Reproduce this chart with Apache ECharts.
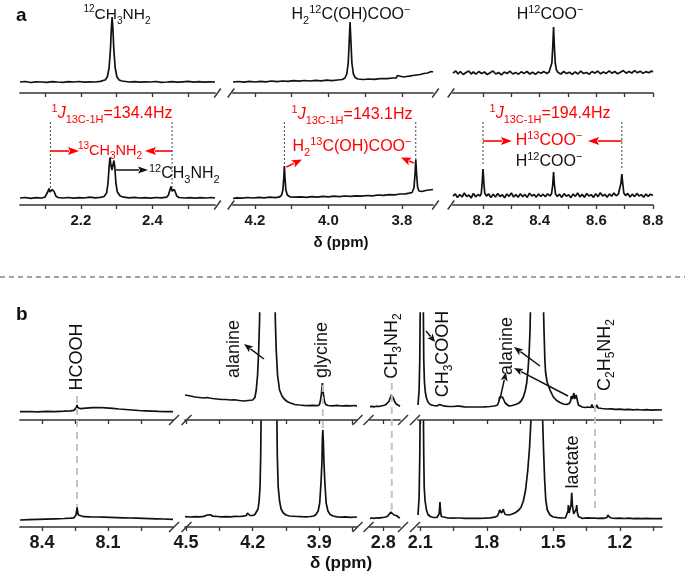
<!DOCTYPE html>
<html><head><meta charset="utf-8">
<script src="https://cdn.jsdelivr.net/npm/echarts@6/dist/echarts.min.js"></script>
<style>html,body{margin:0;padding:0;background:#fff}#c{width:685px;height:575px}</style>
</head><body><div id="c"></div>
<script>
// ---------- tick values / labels (ppm) ----------
const tickA1 = [2.1,2.2,2.3,2.4,2.5],            labA1 = [2.2,2.4];
const tickA2 = [4.2,4.1,4.0,3.9,3.8],            labA2 = [4.2,4.0,3.8];
const tickA3 = [8.2,8.3,8.4,8.5,8.6,8.7,8.8],    labA3 = [8.2,8.4,8.6,8.8];
const tickB1 = [8.4,8.25,8.1,7.95],              labB1 = [8.4,8.1];
const tickB2 = [4.5,4.35,4.2,4.05,3.9,3.75],     labB2 = [4.5,4.2,3.9];
const tickB3 = [2.8],                            labB3 = [2.8];
const tickB4 = [2.1,1.95,1.8,1.65,1.5,1.35,1.2,1.05], labB4 = [2.1,1.8,1.5,1.2];

// ---------- spectra: [ppm, intensity] ----------
const a1Top = [[2.03,11],[2.045,11.5],[2.06,10.5],[2.075,11.2],[2.09,11],[2.105,10.6],[2.12,11.4],[2.135,11],[2.15,10.7],[2.165,11.3],[2.18,11],[2.195,11.5],[2.21,10.8],[2.225,11.2],[2.24,11],[2.255,11.6],[2.262,12.5],[2.268,13],[2.274,16],[2.279,25],[2.283,45],[2.285,62],[2.2875,76],[2.29,62],[2.292,45],[2.296,25],[2.301,16],[2.307,13],[2.315,12],[2.325,11.5],[2.335,11],[2.35,11.4],[2.365,10.8],[2.38,11.2],[2.395,11],[2.41,11.5],[2.425,10.7],[2.44,11],[2.455,11.4],[2.47,10.8],[2.485,11.2],[2.5,11.6],[2.515,10.9],[2.53,11.3],[2.545,10.8],[2.56,11.2],[2.575,11]];
const a1Bot = [[2.03,7],[2.045,7.5],[2.06,6.6],[2.075,7.3],[2.09,7],[2.1,7.8],[2.104,9.5],[2.108,13.5],[2.111,16.5],[2.114,13],[2.117,12.5],[2.12,15.5],[2.123,17.5],[2.126,13],[2.13,9],[2.136,7.5],[2.15,7],[2.165,7.5],[2.18,6.8],[2.195,7.4],[2.21,7],[2.225,7.8],[2.24,7.2],[2.255,7.6],[2.265,8.5],[2.272,12],[2.276,22],[2.279,38],[2.2815,47.5],[2.284,40],[2.287,35],[2.2895,37],[2.2925,44.5],[2.295,38],[2.298,22],[2.302,13],[2.31,9],[2.32,7.8],[2.335,7.2],[2.35,7.6],[2.365,7],[2.38,7.4],[2.395,6.9],[2.41,7.5],[2.425,7.1],[2.44,7.8],[2.445,10],[2.449,15],[2.452,18.5],[2.455,14],[2.458,13],[2.461,15.5],[2.464,13],[2.468,9],[2.474,7.5],[2.49,7],[2.505,7.4],[2.52,6.8],[2.535,7.3],[2.55,7],[2.565,7.5],[2.575,7]];
const a2Top = [[4.26,11],[4.245,11.5],[4.23,10.8],[4.215,11.6],[4.2,11],[4.185,11.7],[4.17,11.2],[4.155,12],[4.14,11.4],[4.125,12],[4.11,11.6],[4.095,12.3],[4.08,11.8],[4.065,12.5],[4.05,12],[4.035,12.6],[4.02,12.2],[4.005,12.8],[3.99,12.4],[3.975,13],[3.962,13.5],[3.955,15],[3.95,19],[3.946,30],[3.9435,50],[3.941,71],[3.9385,50],[3.936,30],[3.932,19],[3.927,15.5],[3.92,14],[3.905,13.5],[3.89,14],[3.875,13.6],[3.865,14.2],[3.86,16],[3.855,14.5],[3.84,14.4],[3.825,15],[3.815,15.2],[3.812,17.5],[3.808,15.5],[3.795,16],[3.787,16.5],[3.784,18.5],[3.78,16.8],[3.77,17.5],[3.76,18],[3.75,18.5],[3.74,19.5],[3.73,20],[3.72,21.5],[3.715,21]];
const a2Bot = [[4.26,6.5],[4.25,7.2],[4.235,6.8],[4.22,7.5],[4.205,7],[4.19,7.6],[4.175,7.1],[4.16,7.8],[4.145,7.3],[4.135,7.8],[4.128,9.5],[4.124,15],[4.1215,28],[4.12,39],[4.1185,28],[4.116,15],[4.112,10],[4.105,8.2],[4.09,7.8],[4.075,8.2],[4.06,7.6],[4.045,8.4],[4.03,7.9],[4.015,8.6],[4.0,8.2],[3.985,8.8],[3.97,8.4],[3.955,9],[3.94,8.6],[3.925,9.2],[3.91,8.8],[3.895,9.5],[3.88,9.2],[3.865,10],[3.85,9.6],[3.835,10.4],[3.82,10.2],[3.805,11],[3.79,11.2],[3.78,11.8],[3.772,12.5],[3.767,17],[3.764,30],[3.762,45.5],[3.7595,30],[3.757,18],[3.753,14],[3.745,13.5],[3.735,14.5],[3.725,15],[3.715,15.5]];
const a3Top = [[8.094,20],[8.104,22],[8.112,19],[8.12,21.5],[8.13,18.5],[8.14,20.5],[8.15,22],[8.158,19],[8.166,21],[8.175,18.8],[8.185,21.5],[8.195,19.5],[8.205,21],[8.215,18.5],[8.225,20.2],[8.235,22],[8.245,19],[8.255,20.5],[8.265,18.2],[8.275,21],[8.285,19.5],[8.295,21.8],[8.305,19],[8.315,20.6],[8.325,18.8],[8.335,21.2],[8.345,19.6],[8.355,21.5],[8.365,19],[8.375,20.8],[8.385,18.6],[8.395,21],[8.405,19.8],[8.415,21.4],[8.425,19.5],[8.433,21],[8.439,23],[8.443,30],[8.4465,48],[8.449,66],[8.4515,48],[8.455,30],[8.459,23],[8.465,20.5],[8.475,19],[8.485,21.5],[8.495,19.4],[8.505,20.8],[8.515,18.6],[8.525,21.2],[8.535,19],[8.545,21.8],[8.555,19.5],[8.565,20.5],[8.575,18.8],[8.585,21.5],[8.595,19.8],[8.605,22],[8.615,19.2],[8.625,21],[8.635,19.5],[8.645,22.2],[8.655,19.8],[8.665,21.5],[8.675,19.2],[8.685,20.8],[8.695,22.5],[8.705,19.8],[8.715,21.5],[8.725,20],[8.735,22.4],[8.745,20.2],[8.755,21.8],[8.765,19.6],[8.775,21.4],[8.785,20.2],[8.795,22],[8.8,21]];
const a3Bot = [[8.094,9],[8.102,11],[8.11,7.5],[8.118,10.5],[8.126,8],[8.134,12],[8.142,8.5],[8.15,10],[8.158,7],[8.166,11.5],[8.174,8.2],[8.182,10.5],[8.19,9],[8.194,12],[8.197,22],[8.2,36],[8.203,22],[8.206,12],[8.212,9],[8.22,11],[8.228,7.5],[8.236,10.8],[8.244,8],[8.252,11.5],[8.26,8.5],[8.268,10.2],[8.276,7.2],[8.284,11],[8.292,8.6],[8.3,12],[8.308,8],[8.316,10.4],[8.324,7.8],[8.332,11.2],[8.34,8.4],[8.348,10.6],[8.356,7.6],[8.364,11.8],[8.372,9],[8.38,10.5],[8.388,7.9],[8.396,11],[8.404,8.5],[8.412,10.8],[8.42,8.2],[8.428,11.2],[8.436,9],[8.442,11.5],[8.446,20],[8.449,33],[8.452,20],[8.456,11],[8.462,8.5],[8.47,10.8],[8.478,7.6],[8.486,11.4],[8.494,8.8],[8.502,10.2],[8.51,7.4],[8.518,11],[8.526,8.6],[8.534,12],[8.542,8.2],[8.55,10.6],[8.558,7.8],[8.566,11.5],[8.574,9],[8.582,10.4],[8.59,7.6],[8.598,11.2],[8.606,8.4],[8.614,12.2],[8.622,9],[8.63,10.6],[8.638,7.8],[8.646,11],[8.654,8.8],[8.662,12],[8.67,9.2],[8.678,11],[8.684,12.5],[8.687,22],[8.69,31],[8.693,22],[8.697,12],[8.703,9.5],[8.711,11.5],[8.719,8],[8.727,10.8],[8.735,8.4],[8.743,11.6],[8.751,9],[8.759,10.4],[8.767,7.8],[8.775,11],[8.783,8.6],[8.791,10.8],[8.8,9.5]];
const b1Top = [[8.5,8.3],[8.46,8.5],[8.42,8.2],[8.38,8.6],[8.34,8.4],[8.3,8.8],[8.27,9.2],[8.255,9.6],[8.248,10.5],[8.244,12.5],[8.241,15],[8.238,12.5],[8.234,11],[8.225,11.3],[8.2,11.8],[8.17,12.3],[8.14,12.5],[8.11,12.2],[8.08,11.6],[8.05,11],[8.02,10.5],[7.99,10],[7.96,9.5],[7.93,9.2],[7.9,8.9],[7.87,8.6],[7.84,8.4],[7.805,8.3]];
const b1Bot = [[8.5,7],[8.46,7.3],[8.42,7.6],[8.38,7.9],[8.34,8.2],[8.3,8.5],[8.27,8.8],[8.255,9.2],[8.25,10],[8.246,12],[8.243,15.5],[8.2405,19.7],[8.238,15],[8.235,12],[8.23,10.8],[8.21,10.3],[8.18,10.1],[8.15,10],[8.12,9.8],[8.09,9.6],[8.06,9.4],[8.03,9.2],[8.0,9],[7.97,8.8],[7.94,8.6],[7.91,8.4],[7.88,8.2],[7.85,8],[7.805,7.7]];
const b2Top = [[4.505,25],[4.48,24],[4.46,23],[4.44,22.5],[4.42,22],[4.405,22.5],[4.4,24],[4.395,22],[4.38,21.5],[4.36,21],[4.34,20.5],[4.32,20.5],[4.3,20],[4.285,20.2],[4.28,22],[4.275,20],[4.26,19.5],[4.24,19],[4.22,19.5],[4.2,20],[4.19,22.5],[4.184,30],[4.178,45],[4.173,70],[4.169,100],[4.167,130],[4.1,130],[4.098,100],[4.094,70],[4.088,45],[4.079,30],[4.068,24],[4.058,21],[4.045,18.5],[4.03,17],[4.01,15.5],[3.99,15],[3.97,14.6],[3.95,14.4],[3.93,14.6],[3.91,14.3],[3.9,15],[3.895,19],[3.89,27],[3.886,37],[3.882,27],[3.877,19],[3.871,15.5],[3.86,14.5],[3.84,14.2],[3.82,14.6],[3.8,14],[3.78,14.4],[3.76,14.1],[3.745,14.5],[3.73,14.2]];
const b2Bot = [[4.505,10.3],[4.48,10],[4.46,10.4],[4.44,10.2],[4.42,10.6],[4.405,12],[4.4,11],[4.39,12.2],[4.38,10.8],[4.36,10.5],[4.34,10.2],[4.32,10.4],[4.3,10.2],[4.28,10.6],[4.26,10.5],[4.24,10.8],[4.228,11.5],[4.224,14],[4.221,16],[4.218,13],[4.212,11.5],[4.2,11.5],[4.19,12.5],[4.182,14],[4.176,18],[4.171,26],[4.167,40],[4.164,70],[4.162,110],[4.161,130],[4.092,130],[4.091,110],[4.089,70],[4.085,40],[4.079,26],[4.072,18],[4.062,14],[4.05,12],[4.035,11],[4.0,10.5],[3.98,10.3],[3.96,10.2],[3.94,10.5],[3.925,11],[3.915,12.5],[3.905,16],[3.898,24],[3.892,45],[3.888,65],[3.886,88],[3.884,97],[3.882,88],[3.879,65],[3.875,45],[3.869,24],[3.861,16],[3.851,12.5],[3.838,11],[3.82,10.2],[3.8,9.8],[3.78,10.2],[3.76,9.7],[3.73,10]];
const b3Top = [[2.86,13.3],[2.85,13.6],[2.84,13.2],[2.83,13.8],[2.82,13.5],[2.81,14],[2.8,14.5],[2.79,15.2],[2.782,16.5],[2.775,18.5],[2.769,22],[2.765,25],[2.762,26.7],[2.759,25],[2.755,22],[2.749,18.5],[2.742,16],[2.735,14.5],[2.725,13.8]];
const b3Bot = [[2.86,8.7],[2.85,9],[2.84,8.6],[2.83,9.2],[2.82,8.8],[2.81,9.3],[2.8,9.5],[2.79,10],[2.78,11],[2.772,12.5],[2.766,15],[2.762,17],[2.758,15],[2.752,12],[2.745,10.8],[2.742,11.5],[2.738,10.5],[2.73,9.5],[2.725,9]];
const b4Top = [[2.11,15],[2.105,30],[2.102,60],[2.1,110],[2.099,150],[2.087,150],[2.086,110],[2.084,60],[2.081,38],[2.077,28],[2.072,22],[2.065,18],[2.055,15.5],[2.04,14.5],[2.025,14],[2.016,14.5],[2.013,15.5],[2.011,16.5],[2.009,15.5],[2.005,14.3],[1.99,13.8],[1.97,13.5],[1.95,13.5],[1.935,13.8],[1.929,15],[1.925,13.8],[1.9,13.2],[1.87,13],[1.84,13],[1.81,13.2],[1.785,13.5],[1.765,14],[1.752,15],[1.746,18],[1.742,23],[1.7395,25],[1.737,22],[1.733,21],[1.729,23],[1.7255,24.5],[1.722,21],[1.717,17],[1.71,15],[1.7,14],[1.685,14.5],[1.67,15.5],[1.655,17],[1.645,19],[1.635,23],[1.627,29],[1.62,37],[1.614,50],[1.609,67],[1.605,90],[1.602,120],[1.6,150],[1.547,150],[1.545,120],[1.542,90],[1.538,60],[1.535,48],[1.528,38],[1.515,30],[1.5,23],[1.485,19.5],[1.47,17.5],[1.455,16],[1.44,15.5],[1.428,16.5],[1.422,19],[1.419,24],[1.417,26],[1.414,21],[1.41,22],[1.407,27],[1.404,21],[1.4,20],[1.397,25],[1.395,26],[1.392,20],[1.387,15],[1.38,13.5],[1.37,13],[1.355,12.5],[1.345,13],[1.343,15],[1.34,12.8],[1.33,12.5],[1.326,15.5],[1.323,12.8],[1.31,12.3],[1.305,15],[1.302,14.5],[1.298,12],[1.28,11.5],[1.26,11],[1.24,11.2],[1.22,10.6],[1.2,10.8],[1.18,10.4],[1.16,10.7],[1.14,10.2],[1.12,10.5],[1.1,10],[1.08,10.3],[1.06,9.8],[1.04,10.2],[1.01,10]];
const b4Bot = [[2.11,12],[2.105,30],[2.102,70],[2.1,120],[2.099,150],[2.087,150],[2.086,120],[2.084,70],[2.082,40],[2.078,26],[2.072,17],[2.065,12.5],[2.055,10.5],[2.04,9.5],[2.025,9.5],[2.018,10.5],[2.015,13],[2.013,18],[2.011,25],[2.009,18],[2.007,13],[2.004,10.5],[1.995,9.5],[1.975,9],[1.95,8.8],[1.935,9],[1.931,10.5],[1.929,11],[1.926,10],[1.92,9],[1.9,8.7],[1.87,8.6],[1.84,8.7],[1.81,8.8],[1.785,9.2],[1.765,9.8],[1.752,11],[1.746,14],[1.742,17],[1.7395,17.7],[1.737,15],[1.733,14],[1.729,16],[1.7255,17.7],[1.722,15],[1.717,12.5],[1.71,12],[1.7,12],[1.685,13],[1.67,14.5],[1.655,17],[1.645,20],[1.635,26],[1.625,37],[1.615,57],[1.607,80],[1.601,106],[1.599,140],[1.55,140],[1.548,106],[1.544,77],[1.539,47],[1.534,27],[1.527,17],[1.515,12],[1.5,10],[1.48,9.3],[1.46,9],[1.445,9.2],[1.437,10.5],[1.434,16],[1.432,22],[1.429,14],[1.423,13],[1.42,22],[1.417,34.3],[1.414,22],[1.408,13],[1.4,14],[1.397,18],[1.3945,22],[1.392,15],[1.387,10.5],[1.38,9],[1.37,8.7],[1.36,8.8],[1.345,9.2],[1.342,10.5],[1.339,9],[1.33,8.8],[1.325,10],[1.322,10.8],[1.319,9],[1.31,9],[1.3,8.7],[1.285,8.8],[1.27,8.7],[1.258,9.5],[1.254,12],[1.2515,13],[1.249,11],[1.245,9.5],[1.235,9],[1.22,8.6],[1.2,8.8],[1.18,8.5],[1.16,8.8],[1.14,8.4],[1.12,8.7],[1.1,8.3],[1.08,8.6],[1.06,8.3],[1.04,8.5],[1.01,8.4]];

// ---------- layout ----------
const FONT = '"Liberation Sans", Arial, Helvetica, sans-serif';
const AX = '#333', INK = '#111', RED = '#ff0000';
const L = [
  {l:20, r:215, t:8,   b:93,  min:2.03,  max:2.575, inv:false, ticks:tickA1, labs:null,  data:a1Top},
  {l:20, r:215, t:110, b:205, min:2.03,  max:2.575, inv:false, ticks:tickA1, labs:labA1, data:a1Bot, fs:15, m:8},
  {l:233,r:433, t:8,   b:93,  min:3.715, max:4.26,  inv:true,  ticks:tickA2, labs:null,  data:a2Top},
  {l:233,r:433, t:110, b:205, min:3.715, max:4.26,  inv:true,  ticks:tickA2, labs:labA2, data:a2Bot, fs:15, m:8},
  {l:453,r:653, t:8,   b:93,  min:8.094, max:8.8,   inv:false, ticks:tickA3, labs:null,  data:a3Top},
  {l:453,r:653, t:110, b:205, min:8.094, max:8.8,   inv:false, ticks:tickA3, labs:labA3, data:a3Bot, fs:15, m:8},
  {l:20, r:173, t:313, b:420, min:7.805, max:8.5,   inv:true,  ticks:tickB1, labs:null,  data:b1Top},
  {l:20, r:173, t:421, b:527, min:7.805, max:8.5,   inv:true,  ticks:tickB1, labs:labB1, data:b1Bot, fs:18, m:7},
  {l:185,r:357, t:313, b:420, min:3.73,  max:4.505, inv:true,  ticks:tickB2, labs:null,  data:b2Top},
  {l:185,r:357, t:421, b:527, min:3.73,  max:4.505, inv:true,  ticks:tickB2, labs:labB2, data:b2Bot, fs:18, m:7},
  {l:370,r:400, t:313, b:420, min:2.725, max:2.86,  inv:true,  ticks:tickB3, labs:null,  data:b3Top},
  {l:370,r:400, t:421, b:527, min:2.725, max:2.86,  inv:true,  ticks:tickB3, labs:labB3, data:b3Bot, fs:18, m:7},
  {l:418,r:662, t:313, b:420, min:1.01,  max:2.11,  inv:true,  ticks:tickB4, labs:null,  data:b4Top},
  {l:418,r:662, t:421, b:527, min:1.01,  max:2.11,  inv:true,  ticks:tickB4, labs:labB4, data:b4Bot, fs:18, m:7}
];

const chart = echarts.init(document.getElementById('c'), null, {renderer:'canvas'});
chart.setOption({
  backgroundColor:'#fff',
  animation:false,
  grid: L.map(g => ({left:g.l, top:g.t, width:g.r-g.l, height:g.b-g.t})),
  xAxis: L.map((g,i) => ({
    gridIndex:i, type:'value', min:g.min, max:g.max, inverse:g.inv,
    axisLine:{show:true, onZero:false, lineStyle:{color:AX, width:1.7}},
    axisTick:{show:true, inside:false, length:4, customValues:g.ticks, lineStyle:{color:AX, width:1.3}},
    axisLabel: g.labs ? {show:true, customValues:g.labs, margin:g.m, fontSize:g.fs, fontWeight:'bold',
      fontFamily:FONT, color:'#1a1a1a', formatter:v => v.toFixed(1)} : {show:false},
    splitLine:{show:false}
  })),
  yAxis: L.map((g,i) => ({gridIndex:i, type:'value', min:0, max:g.b-g.t, show:false})),
  series: L.map((g,i) => ({
    type:'line', xAxisIndex:i, yAxisIndex:i, data:g.data, showSymbol:false, symbol:'none',
    lineStyle:{color:INK, width:1.7}, clip:true, silent:true, animation:false
  }))
});

// ---------- annotations ----------
const X = (gi, ppm) => chart.convertToPixel({gridIndex:gi}, [ppm, 0])[0];

function rich(size, color){
  const s = Math.round(size*0.66);
  return {
    n:{fontSize:size, fontFamily:FONT, fill:color, lineHeight:size+6},
    i:{fontSize:size, fontFamily:FONT, fill:color, fontStyle:'italic', lineHeight:size+6},
    sup:{fontSize:s, fontFamily:FONT, fill:color, lineHeight:s+1, verticalAlign:'top'},
    sub:{fontSize:s, fontFamily:FONT, fill:color, lineHeight:s+1, verticalAlign:'bottom'}
  };
}
function T(text, x, y, size, color, opt){
  opt = opt || {};
  return {type:'text', x:x, y:y, rotation:opt.rot||0, z:100, silent:true,
    style:{text:text, rich:rich(size,color), fill:color, fontSize:size, fontFamily:FONT,
      align:opt.align||'center', verticalAlign:'middle'}};
}
function B(text, x, y, size, align){
  return {type:'text', x:x, y:y, z:100, silent:true,
    style:{text:text, fill:'#111', fontSize:size, fontWeight:'bold', fontFamily:FONT,
      align:align||'center', verticalAlign:'middle'}};
}
function arrow(x1,y1,x2,y2,color,hl,hw,lw){
  const dx=x2-x1, dy=y2-y1, len=Math.hypot(dx,dy), ux=dx/len, uy=dy/len;
  const bx=x2-ux*hl, by=y2-uy*hl, px=-uy, py=ux;
  return [
    {type:'line', z:100, silent:true, shape:{x1:x1,y1:y1,x2:bx+ux*1,y2:by+uy*1}, style:{stroke:color, lineWidth:lw}},
    {type:'polygon', z:100, silent:true, shape:{points:[[x2,y2],[bx+px*hw,by+py*hw],[bx+ux*2,by+uy*2],[bx-px*hw,by-py*hw]]}, style:{fill:color}}
  ];
}
function vline(x,y1,y2,color,dash,lw){
  return {type:'line', z:90, silent:true, shape:{x1:x,y1:y1,x2:x,y2:y2},
    style:{stroke:color, lineWidth:lw, lineDash:dash}};
}
function slash(x,y,dx,dy){
  return {type:'line', z:95, silent:true, shape:{x1:x-dx,y1:y+dy,x2:x+dx,y2:y-dy},
    style:{stroke:AX, lineWidth:1.4}};
}

const g = [];
// panel labels
g.push(B('a', 16, 16, 19, 'left'));
g.push(B('b', 16, 315, 19, 'left'));
g.push(B('δ (ppm)', 341, 243, 15));
g.push(B('δ (ppm)', 341, 563, 17));
// separator
g.push({type:'line', silent:true, shape:{x1:0,y1:277,x2:685,y2:277}, style:{stroke:'#444', lineWidth:1.1, lineDash:[5,4]}});

// panel a top labels
g.push(T('{sup|12}{n|CH}{sub|3}{n|NH}{sub|2}', 117, 15, 15.5, INK));
g.push(T('{n|H}{sub|2}{sup|12}{n|C(OH)COO}{sup|−}', 351, 15, 16, INK));
g.push(T('{n|H}{sup|12}{n|COO}{sup|−}', 550, 15, 16, INK));
// J labels
g.push(T('{sup|1}{i|J}{sub|13C-1H}{n|=134.4Hz}', 112, 114, 16, RED));
g.push(T('{sup|1}{i|J}{sub|13C-1H}{n|=143.1Hz}', 352, 115, 16, RED));
g.push(T('{sup|1}{i|J}{sub|13C-1H}{n|=194.4Hz}', 550, 114, 16, RED));
// red compound labels
g.push(T('{sup|13}{n|CH}{sub|3}{n|NH}{sub|2}', 110, 151, 14.5, RED));
g.push(T('{n|H}{sub|2}{sup|13}{n|C(OH)COO}{sup|−}', 352, 147, 16, RED));
g.push(T('{n|H}{sup|13}{n|COO}{sup|−}', 549, 141, 16, RED));
// black compound labels in bottom spectra
g.push(T('{n|H}{sup|12}{n|COO}{sup|−}', 549, 162, 16, INK));
g.push(T('{sup|12}{n|CH}{sub|3}{n|NH}{sub|2}', 149, 174, 16, INK, {align:'left'}));

// dotted coupling lines
const dotted = [[1,2.115,189],[1,2.455,187],[3,4.12,166],[3,3.762,160],[5,8.2,165],[5,8.69,168]];
dotted.forEach(d => g.push(vline(X(d[0],d[1]), 122, d[2], '#444', [2,2], 1)));

// red arrows
g.push(...arrow(X(1,2.115),151, 79,151, RED, 11, 4, 1.6));
g.push(...arrow(X(1,2.455),151, 145,151, RED, 11, 4, 1.6));
g.push(...arrow(X(3,4.12)+2,167, 302,159.5, RED, 10, 4, 1.6));
g.push(...arrow(X(3,3.762)-2,163, 401,157.5, RED, 10, 4, 1.6));
g.push(...arrow(X(5,8.2),141, 512,141, RED, 11, 4, 1.6));
g.push(...arrow(X(5,8.69),141, 588,141, RED, 11, 4, 1.6));
// black arrow panel a
g.push(...arrow(116,170, 148,170, INK, 10, 3.5, 1.5));

// axis break slashes
[93,205].forEach(y => { [217.5, 231, 435.5, 451].forEach(x => g.push(slash(x,y,3.3,4.5))); });
[420,527].forEach(y => { [174, 186.5, 357.5, 368.5, 403, 415].forEach(x => g.push(slash(x,y,5,5))); });

// panel b gray dashed guide lines
const GR = '#c4c4c4';
g.push(vline(X(7,8.241), 396, 507, GR, [7,5], 2));
g.push(vline(X(9,3.884), 385, 432, GR, [7,5], 2));
g.push(vline(X(11,2.762), 383, 510, GR, [7,5], 2));
g.push(vline(X(13,1.312), 393, 512, GR, [7,5], 2));

// panel b rotated labels
const R = Math.PI/2;
g.push(T('{n|HCOOH}', 77, 357, 18, INK, {rot:R}));
g.push(T('{n|alanine}', 234, 349, 18, INK, {rot:R}));
g.push(T('{n|glycine}', 322, 350, 18, INK, {rot:R}));
g.push(T('{n|CH}{sub|3}{n|NH}{sub|2}', 392, 346, 18, INK, {rot:R}));
g.push(T('{n|CH}{sub|3}{n|COOH}', 443, 354, 18, INK, {rot:R}));
g.push(T('{n|alanine}', 507, 346, 18, INK, {rot:R}));
g.push(T('{n|C}{sub|2}{n|H}{sub|5}{n|NH}{sub|2}', 605, 355, 18, INK, {rot:R}));
g.push(T('{n|lactate}', 573, 462, 18, INK, {rot:R}));

// panel b arrows
g.push(...arrow(264,359, 244,344, INK, 9, 3.5, 1.5));
g.push(...arrow(426,331, 435,342, INK, 8, 3.5, 1.5));
g.push(...arrow(500,399, 506,372, INK, 9, 3.5, 1.5));
g.push(...arrow(540,366, 514,347, INK, 9, 3.5, 1.5));
g.push(...arrow(568,396, 514,368, INK, 9, 3.5, 1.5));

chart.setOption({graphic: g});
</script>
</body></html>
